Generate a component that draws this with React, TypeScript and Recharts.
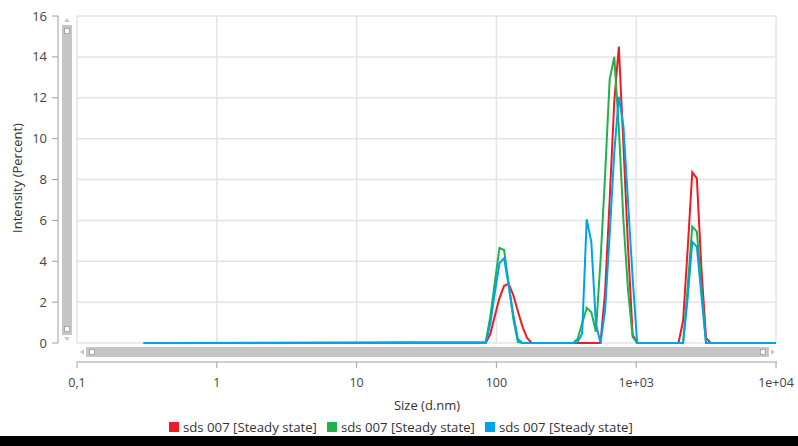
import { CartesianGrid, Line, LineChart, XAxis, YAxis } from "recharts";

// size classes (d.nm) where the curves change; zero stretches are implied between them
const sizes = [
  0.3, 83.9, 90.5, 97.6, 105.2, 113.5, 122.4, 132.0, 142.4, 153.6, 165.7, 178.6,
  352.8, 380.5, 410.4, 442.6, 477.4, 514.9, 555.3, 598.9, 645.9, 696.7, 751.3, 810.4, 874.0, 942.6, 1016.5,
  2007, 2165, 2335, 2518, 2716, 2929, 3159, 3407, 10000,
];
const redValues = [
  0, 0, 0.45, 1.35, 2.2, 2.8, 2.9, 2.35, 1.55, 0.8, 0.25, 0,
  0, 0, 0, 0, 0, 0, 0, 2.5, 7.0, 11.8, 14.5, 9.7, 4.7, 0.4, 0,
  0, 1.1, 4.6, 8.35, 8.05, 3.6, 0.25, 0, 0,
];
const greenValues = [
  0, 0.05, 1.3, 3.0, 4.65, 4.55, 2.9, 1.2, 0.05, 0, 0, 0,
  0, 0.2, 0.95, 1.72, 1.5, 0.55, 4.0, 8.2, 12.9, 14.0, 10.5, 6.0, 2.6, 0.3, 0,
  0, 0, 2.75, 5.7, 5.45, 2.7, 0, 0, 0,
];
const blueValues = [
  0, 0, 0.95, 2.5, 3.9, 4.15, 2.8, 1.4, 0.2, 0, 0, 0,
  0, 0.05, 0.45, 6.05, 4.95, 0.95, 0, 1.6, 5.3, 9.3, 12.05, 10.6, 6.9, 3.2, 0,
  0, 0, 2.2, 4.95, 4.7, 2.3, 0, 0, 0,
];

const xTicks = [0.1, 1, 10, 100, 1000, 10000];
const xTickLabels = ["0,1", "1", "10", "100", "1e+03", "1e+04"];
const yTicks = [0, 2, 4, 6, 8, 10, 12, 14, 16];
const seriesName = "sds 007 [Steady state]";
const colors = { red: "#ed1c24", green: "#22b14c", blue: "#00a2e8" };

const data = sizes.map((size, i) => ({ size, red: redValues[i], green: greenValues[i], blue: blueValues[i] }));

const font = "'Segoe UI', 'Open Sans', sans-serif";

function XTick({ x, payload }: any) {
  const i = xTicks.indexOf(payload.value);
  return (
    <g>
      <line x1={x} x2={x} y1={362} y2={368} stroke="#a0a0a0" />
      <text x={x} y={387} textAnchor="middle" fontSize={12.5} fill="#444" fontFamily={font}>
        {xTickLabels[i]}
      </text>
    </g>
  );
}

function YTick({ y, payload }: any) {
  return (
    <g>
      <line x1={52} x2={58} y1={y} y2={y} stroke="#a0a0a0" />
      <text x={47} y={y + 4.5} textAnchor="end" fontSize={13} fill="#444" fontFamily={font}>
        {payload.value}
      </text>
    </g>
  );
}

function Decorations() {
  return (
    <svg width={798} height={446} style={{ position: "absolute", left: 0, top: 0, pointerEvents: "none" }}>
      {/* axis lines */}
      <line x1={58} x2={58} y1={16} y2={343} stroke="#a0a0a0" />
      <line x1={77} x2={777} y1={362} y2={362} stroke="#a0a0a0" />
      {/* vertical scrollbar */}
      <polygon points="64,22 70,22 67,18" fill="#c8c8c8" />
      <rect x={62} y={25} width={10} height={310} fill="#c6c6c6" />
      <rect x={64.5} y={28.5} width={5} height={5} fill="#fff" stroke="#999" strokeWidth={0.8} />
      <rect x={64.5} y={326.5} width={5} height={5} fill="#fff" stroke="#999" strokeWidth={0.8} />
      <polygon points="64,337 70,337 67,341" fill="#c8c8c8" />
      {/* horizontal scrollbar */}
      <polygon points="84,349 84,355 80,352" fill="#c8c8c8" />
      <rect x={86} y={347} width={683} height={10} fill="#c6c6c6" />
      <rect x={89.5} y={349.5} width={5} height={5} fill="#fff" stroke="#999" strokeWidth={0.8} />
      <rect x={760.5} y={349.5} width={5} height={5} fill="#fff" stroke="#999" strokeWidth={0.8} />
      <polygon points="771,349 771,355 775,352" fill="#c8c8c8" />
      {/* axis titles */}
      <text transform="translate(22,178) rotate(-90)" textAnchor="middle" fontSize={13} fill="#333" fontFamily={font}>
        Intensity (Percent)
      </text>
      <text x={427} y={410} textAnchor="middle" fontSize={13} fill="#333" fontFamily={font}>
        Size (d.nm)
      </text>
      <rect x={0} y={436} width={798} height={10} fill="#000" />
    </svg>
  );
}

function LegendRow() {
  const items = [colors.red, colors.green, colors.blue];
  return (
    <div style={{ position: "absolute", left: 169, top: 418, display: "flex", fontFamily: font, fontSize: 13.2, color: "#333", whiteSpace: "nowrap" }}>
      {items.map((c, i) => (
        <div key={i} style={{ display: "flex", alignItems: "center", marginRight: 10 }}>
          <span style={{ width: 10, height: 10, background: c, display: "inline-block", marginRight: 4 }} />
          <span>{seriesName}</span>
        </div>
      ))}
    </div>
  );
}

export default function App() {
  return (
    <div style={{ position: "fixed", left: 0, top: 0, width: 798, height: 446, background: "#fff", overflow: "hidden" }}>
      <LineChart width={798} height={446} data={data} margin={{ top: 16, right: 22, bottom: 43, left: 0 }}>
        <CartesianGrid stroke="#e4e4e4" strokeWidth={1.5} />
        <XAxis
          dataKey="size"
          type="number"
          scale="log"
          domain={[0.1, 10000]}
          ticks={xTicks}
          interval={0}
          allowDataOverflow
          axisLine={false}
          tickLine={false}
          height={60}
          tick={<XTick />}
        />
        <YAxis
          type="number"
          domain={[0, 16]}
          ticks={yTicks}
          interval={0}
          axisLine={false}
          tickLine={false}
          width={77}
          tick={<YTick />}
        />
        <Line type="linear" dataKey="red" name={seriesName} stroke={colors.red} strokeWidth={2} dot={false} isAnimationActive={false} />
        <Line type="linear" dataKey="green" name={seriesName} stroke={colors.green} strokeWidth={2} dot={false} isAnimationActive={false} />
        <Line type="linear" dataKey="blue" name={seriesName} stroke={colors.blue} strokeWidth={2} dot={false} isAnimationActive={false} />
      </LineChart>
      <Decorations />
      <LegendRow />
    </div>
  );
}
